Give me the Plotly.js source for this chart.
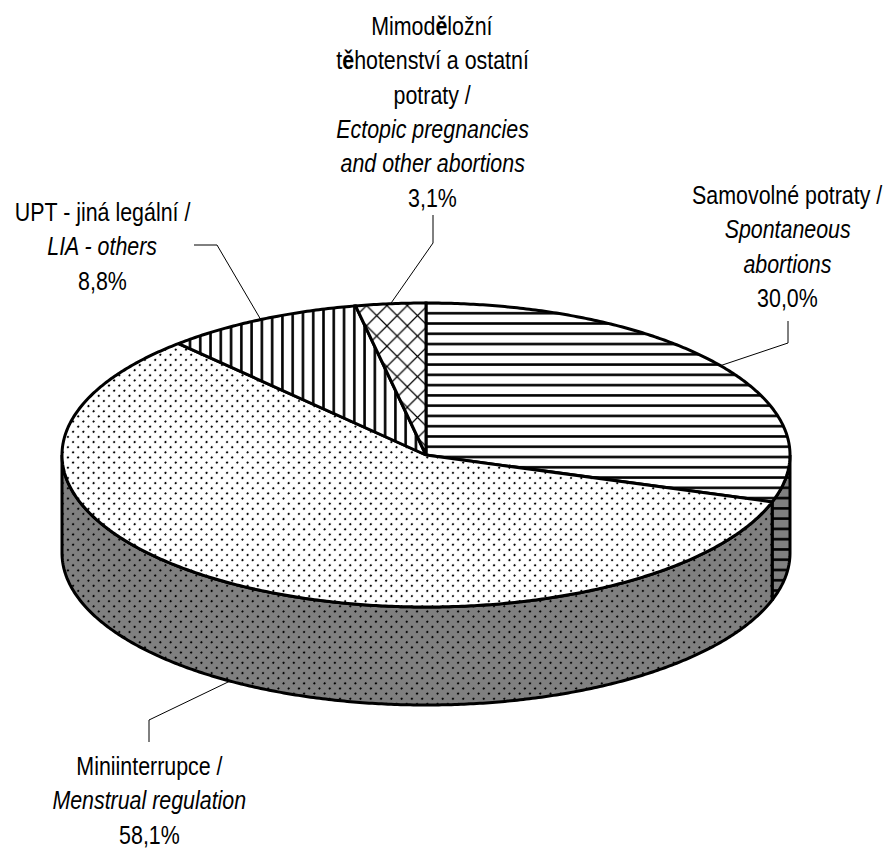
<!DOCTYPE html>
<html><head><meta charset="utf-8">
<script src="https://cdn.plot.ly/plotly-3.0.0.min.js"></script>
<style>html,body{margin:0;padding:0;background:#fff}#c{width:888px;height:848px}</style>
</head><body><div id="c"></div>
<script>
var categories = ['Samovolné potraty','Miniinterrupce','UPT - jiná legální','Mimoděložní těhotenství a ostatní potraty'];
var shares = [30.0, 58.1, 8.8, 3.1];
var labelLines = [
  ['Samovolné potraty /','<i>Spontaneous</i>','<i>abortions</i>','30,0%'],
  ['Miniinterrupce /','<i>Menstrual regulation</i>','58,1%'],
  ['UPT - jiná legální /','<i>LIA - others</i>','8,8%'],
  ['Mimod<b>ě</b>ložní','t<b>ě</b>hotenství a ostatní','potraty /','<i>Ectopic pregnancies</i>','<i>and other abortions</i>','3,1%']
];
var labelCentreX = [787, 149, 102, 432];
var labelFirstBaseline = [203, 774, 220, 34];
var lineStep = 34.3;
var elbows = [[[788,343],[788,321]],[[149,720],[149,742]],[[217,245],[194,245]],[[433,243],[433,215]]];
var patterns = [
  {shape:'-',size:10.27,solidity:0.25},
  {shape:'.',size:7.26,solidity:0.07},
  {shape:'|',size:10.27,solidity:0.25},
  {shape:'x',size:14.4,solidity:0.16}
];
var cx=426, cy=455, rx=364, ry=152, depth=98;
function rim(a){var r=a*Math.PI/180;return [cx+rx*Math.sin(r),cy-ry*Math.cos(r)];}
function arc(a0,a1,dy){var p=[],n=Math.max(2,Math.ceil(Math.abs(a1-a0)*2));for(var i=0;i<=n;i++){var q=rim(a0+(a1-a0)*i/n);p.push([q[0],q[1]+dy]);}return p;}
var traces=[], angle=0, bounds=[0];
shares.forEach(function(v){angle+=v*3.6;bounds.push(angle);});
function poly(pts,pat,bg){
  traces.push({type:'scatter',mode:'lines',x:pts.map(function(p){return p[0]}),y:pts.map(function(p){return p[1]}),
    fill:'toself',fillcolor:bg,fillpattern:{shape:pat.shape,size:pat.size,solidity:pat.solidity,fgcolor:'#000',bgcolor:bg,fgopacity:1},
    line:{color:'#000',width:3,simplify:false},hoverinfo:'skip',showlegend:false});
}
// side wall (front half of the cylinder only)
shares.forEach(function(v,i){
  var a0=Math.max(bounds[i],90), a1=Math.min(bounds[i+1],270);
  if(a1<=a0) return;
  var up=arc(a0,a1,0), low=arc(a1,a0,depth);
  poly(up.concat(low,[up[0]]),patterns[i],'#808080');
});
// top face
shares.forEach(function(v,i){
  var a=arc(bounds[i],bounds[i+1],0);
  poly([[cx,cy]].concat(a,[[cx,cy]]),patterns[i],'#ffffff');
});
// leader lines
var dropY=[0,depth,0,0];
shares.forEach(function(v,i){
  var m=rim((bounds[i]+bounds[i+1])/2);
  var pts=[[m[0],m[1]+dropY[i]]].concat(elbows[i]);
  traces.push({type:'scatter',mode:'lines',x:pts.map(function(p){return p[0]}),y:pts.map(function(p){return p[1]}),
    line:{color:'#000',width:1},hoverinfo:'skip',showlegend:false});
});
var ann=[];
labelLines.forEach(function(lines,i){
  lines.forEach(function(t,j){
    ann.push({x:labelCentreX[i],y:labelFirstBaseline[i]-8+j*lineStep,xref:'x',yref:'y',text:t,showarrow:false,xanchor:'center',yanchor:'middle',
      font:{family:'"Liberation Sans",Arial,sans-serif',size:25,color:'#000'}});
  });
});
var textSqueeze = 0.856;
Plotly.newPlot('c',traces,{
  width:888,height:848,margin:{l:0,r:0,t:0,b:0},paper_bgcolor:'#fff',plot_bgcolor:'#fff',showlegend:false,
  xaxis:{range:[0,888],visible:false,fixedrange:true},
  yaxis:{range:[848,0],visible:false,fixedrange:true},
  annotations:ann
},{staticPlot:true,displayModeBar:false}).then(function(){
  document.querySelectorAll('#c pattern').forEach(function(p){
    if(p.querySelector('circle')) p.setAttribute('patternTransform','translate(1.2,5.7) rotate(45)');
  });
  document.querySelectorAll('#c .annotation-text').forEach(function(t){
    var b=t.getBBox(), c=b.x+b.width/2;
    t.setAttribute('transform','translate('+c+',0) scale('+textSqueeze+',1) translate('+(-c)+',0)');
  });
});
</script></body></html>
